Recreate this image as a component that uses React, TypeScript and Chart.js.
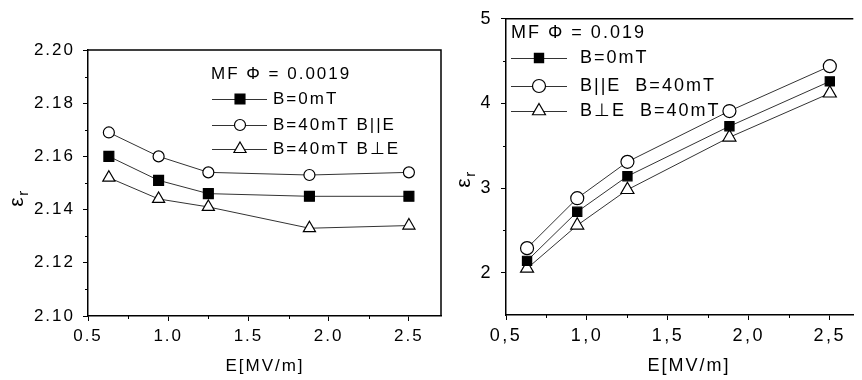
import React, { useEffect, useRef } from 'react';
import { Chart, registerables } from 'chart.js';

Chart.register(...registerables);

// ---------- data ----------
const leftE = [0.63, 0.94, 1.25, 1.88, 2.5];
const leftB0 = [2.16, 2.151, 2.146, 2.145, 2.145];
const leftPar = [2.169, 2.16, 2.154, 2.153, 2.154];
const leftPerp = [2.152, 2.144, 2.141, 2.133, 2.134];

const rightE = [0.63, 0.94, 1.25, 1.88, 2.5];
const rightB0 = [2.14, 2.72, 3.14, 3.73, 4.26];
const rightPar = [2.29, 2.88, 3.31, 3.91, 4.44];
const rightPerp = [2.05, 2.56, 2.98, 3.6, 4.12];

const leftLegendTitle = 'MF Φ = 0.0019';
const leftLabels = ['B=0mT', 'B=40mT B||E', 'B=40mT B⊥E'];
const rightLegendTitle = 'MF Φ = 0.019';
const rightLabels = ['B=0mT', 'B||E  B=40mT', 'B⊥E  B=40mT'];
const xTitle = 'E[MV/m]';

const FONT = '"Liberation Sans", Arial, sans-serif';
const styles = ['rect', 'circle', 'triangle'];

type PanelCfg = {
  w: number; h: number; left: number;
  area: { l: number; t: number; r: number; b: number };
  xs: number[]; series: number[][]; labels: string[]; legendTitle: string;
  xMin: number; xMax: number; xStep: number; xMinor: number[]; xFmt: (v: number) => string;
  yMin: number; yMax: number; yStep: number; yMinor: number[]; yFmt: (v: number) => string;
  fontSize: number; tickSpacing: number; legendSpacing: number; xPad: number; yPad: number;
  legend: { titleX: number; titleY: number; rows: number[]; l0: number; l1: number; m: number; tx: number };
  xTitlePos: [number, number]; epsPos: [number, number]; epsSize: number;
  radii: number[]; rightBorder: boolean;
};

function drawMarker(ctx: CanvasRenderingContext2D, style: string, x: number, y: number, r: number) {
  ctx.save();
  ctx.lineWidth = 1.2;
  ctx.strokeStyle = '#000';
  ctx.beginPath();
  if (style === 'rect') {
    const s = Math.SQRT1_2 * r;
    ctx.rect(x - s, y - s, 2 * s, 2 * s);
    ctx.fillStyle = '#000';
  } else if (style === 'circle') {
    ctx.arc(x, y, r, 0, Math.PI * 2);
    ctx.fillStyle = '#fff';
  } else {
    let a = 0;
    ctx.moveTo(x + Math.sin(a) * r, y - Math.cos(a) * r);
    a += (2 * Math.PI) / 3;
    ctx.lineTo(x + Math.sin(a) * r, y - Math.cos(a) * r);
    a += (2 * Math.PI) / 3;
    ctx.lineTo(x + Math.sin(a) * r, y - Math.cos(a) * r);
    ctx.closePath();
    ctx.fillStyle = '#fff';
  }
  ctx.fill();
  ctx.stroke();
  ctx.restore();
}

function buildConfig(c: PanelCfg): any {
  const decor = {
    id: 'decor',
    beforeDraw(chart: any) {
      (chart.ctx as any).letterSpacing = c.tickSpacing + 'px';
    },
    afterDraw(chart: any) {
      const ctx: CanvasRenderingContext2D = chart.ctx;
      const a = chart.chartArea;
      const xs = chart.scales.x;
      const ys = chart.scales.y;
      ctx.save();
      ctx.strokeStyle = '#000';
      ctx.lineWidth = 1.5;
      // top and right frame
      ctx.beginPath();
      ctx.moveTo(a.left, a.top);
      ctx.lineTo(a.right, a.top);
      if (c.rightBorder) ctx.lineTo(a.right, a.bottom);
      ctx.stroke();
      // minor ticks
      ctx.lineWidth = 1;
      ctx.beginPath();
      c.xMinor.forEach((v) => {
        const px = Math.round(xs.getPixelForValue(v)) + 0.5;
        ctx.moveTo(px, a.bottom);
        ctx.lineTo(px, a.bottom + 3);
      });
      c.yMinor.forEach((v) => {
        const py = Math.round(ys.getPixelForValue(v)) + 0.5;
        ctx.moveTo(a.left, py);
        ctx.lineTo(a.left - 3, py);
      });
      ctx.stroke();

      // legend
      const L = c.legend;
      ctx.fillStyle = '#000';
      (ctx as any).letterSpacing = c.legendSpacing + 'px';
      ctx.font = `${c.fontSize}px ${FONT}`;
      ctx.textBaseline = 'middle';
      ctx.textAlign = 'left';
      ctx.fillText(c.legendTitle, L.titleX, L.titleY);
      c.labels.forEach((lab, i) => {
        const y = L.rows[i];
        ctx.strokeStyle = '#333';
        ctx.lineWidth = 1;
        ctx.beginPath();
        ctx.moveTo(L.l0, y + 0.5);
        ctx.lineTo(L.l1, y + 0.5);
        ctx.stroke();
        drawMarker(ctx, styles[i], L.m, y, c.radii[i]);
        ctx.fillStyle = '#000';
        ctx.fillText(lab, L.tx, y);
      });

      // x title
      ctx.textAlign = 'center';
      ctx.fillText(xTitle, c.xTitlePos[0], c.xTitlePos[1]);

      // y title: epsilon with subscript r, rotated
      (ctx as any).letterSpacing = '0px';
      ctx.translate(c.epsPos[0], c.epsPos[1]);
      ctx.rotate(-Math.PI / 2);
      ctx.textAlign = 'center';
      ctx.font = `${c.epsSize}px ${FONT}`;
      ctx.fillText('ε', 0, 0);
      ctx.font = `${Math.round(c.epsSize * 0.7)}px ${FONT}`;
      ctx.textAlign = 'left';
      ctx.fillText('r', c.epsSize * 0.3, c.epsSize * 0.35);
      ctx.restore();
    },
  };

  const tickFont = { family: FONT, size: c.fontSize };
  return {
    type: 'scatter',
    data: {
      datasets: c.series.map((ys, i) => ({
        label: c.labels[i],
        data: c.xs.map((x, j) => ({ x, y: ys[j] })),
        showLine: true,
        borderColor: '#333',
        borderWidth: 1,
        pointStyle: styles[i],
        pointRadius: c.radii[i],
        pointHoverRadius: c.radii[i],
        pointBackgroundColor: i === 0 ? '#000' : '#fff',
        pointBorderColor: '#000',
        pointBorderWidth: 1.2,
      })),
    },
    options: {
      responsive: false,
      animation: false,
      layout: { padding: { top: c.area.t, right: c.w - c.area.r, left: 0, bottom: 0 } },
      plugins: { legend: { display: false }, tooltip: { enabled: false } },
      scales: {
        x: {
          type: 'linear',
          min: c.xMin,
          max: c.xMax,
          afterFit: (s: any) => { s.height = c.h - c.area.b; },
          ticks: {
            stepSize: c.xStep,
            includeBounds: false,
            autoSkip: false,
            maxRotation: 0,
            color: '#000',
            font: tickFont,
            padding: c.xPad,
            callback: (v: number) => c.xFmt(v),
          },
          grid: { display: true, drawOnChartArea: false, drawTicks: true, tickLength: 5, color: '#000', lineWidth: 1 },
          border: { display: true, color: '#000', width: 1.5 },
        },
        y: {
          type: 'linear',
          min: c.yMin,
          max: c.yMax,
          afterFit: (s: any) => { s.width = c.area.l; },
          ticks: {
            stepSize: c.yStep,
            includeBounds: false,
            autoSkip: false,
            color: '#000',
            font: tickFont,
            padding: c.yPad,
            callback: (v: number) => c.yFmt(v),
          },
          grid: { display: true, drawOnChartArea: false, drawTicks: true, tickLength: 5, color: '#000', lineWidth: 1 },
          border: { display: true, color: '#000', width: 1.5 },
        },
      },
    },
    plugins: [decor],
  };
}

const leftCfg: PanelCfg = {
  w: 450, h: 380, left: 0,
  area: { l: 88, t: 50, r: 441, b: 316 },
  xs: leftE, series: [leftB0, leftPar, leftPerp], labels: leftLabels, legendTitle: leftLegendTitle,
  xMin: 0.5, xMax: 2.7, xStep: 0.5, xMinor: [0.75, 1.25, 1.75, 2.25], xFmt: (v) => v.toFixed(1),
  yMin: 2.1, yMax: 2.2, yStep: 0.02, yMinor: [2.11, 2.13, 2.15, 2.17, 2.19], yFmt: (v) => v.toFixed(2),
  fontSize: 17, tickSpacing: 2, legendSpacing: 2, xPad: 5, yPad: 8,
  legend: { titleX: 211, titleY: 74, rows: [99, 125, 149], l0: 212, l1: 267, m: 240, tx: 273 },
  xTitlePos: [265, 366], epsPos: [17, 202], epsSize: 21,
  radii: [7, 5.5, 7], rightBorder: true,
};

const rightCfg: PanelCfg = {
  w: 412, h: 380, left: 450,
  area: { l: 56, t: 16, r: 412, b: 315 },
  xs: rightE, series: [rightB0, rightPar, rightPerp], labels: rightLabels, legendTitle: rightLegendTitle,
  xMin: 0.5, xMax: 2.645, xStep: 0.5, xMinor: [0.75, 1.25, 1.75, 2.25], xFmt: (v) => v.toFixed(1).replace('.', ','),
  yMin: 1.5, yMax: 5, yStep: 1, yMinor: [2.5, 3.5, 4.5], yFmt: (v) => String(Math.round(v)),
  fontSize: 18, tickSpacing: 2.5, legendSpacing: 2, xPad: 5, yPad: 8,
  legend: { titleX: 61, titleY: 33, rows: [58, 86, 111], l0: 61, l1: 117, m: 89, tx: 130 },
  xTitlePos: [239, 366], epsPos: [14, 183], epsSize: 21,
  radii: [6.5, 6.5, 7.5], rightBorder: false,
};

function Panel({ cfg }: { cfg: PanelCfg }) {
  const ref = useRef<HTMLCanvasElement>(null);
  useEffect(() => {
    const chart = new Chart(ref.current as HTMLCanvasElement, buildConfig(cfg));
    return () => chart.destroy();
  }, [cfg]);
  return (
    <div style={{ position: 'absolute', left: cfg.left, top: 0, width: cfg.w, height: cfg.h }}>
      <canvas ref={ref} width={cfg.w} height={cfg.h} style={{ width: cfg.w, height: cfg.h, display: 'block' }} />
    </div>
  );
}

export default function App() {
  return (
    <div style={{ position: 'fixed', left: 0, top: 0, width: 862, height: 380, background: '#fff', overflow: 'hidden' }}>
      <Panel cfg={leftCfg} />
      <Panel cfg={rightCfg} />
    </div>
  );
}
